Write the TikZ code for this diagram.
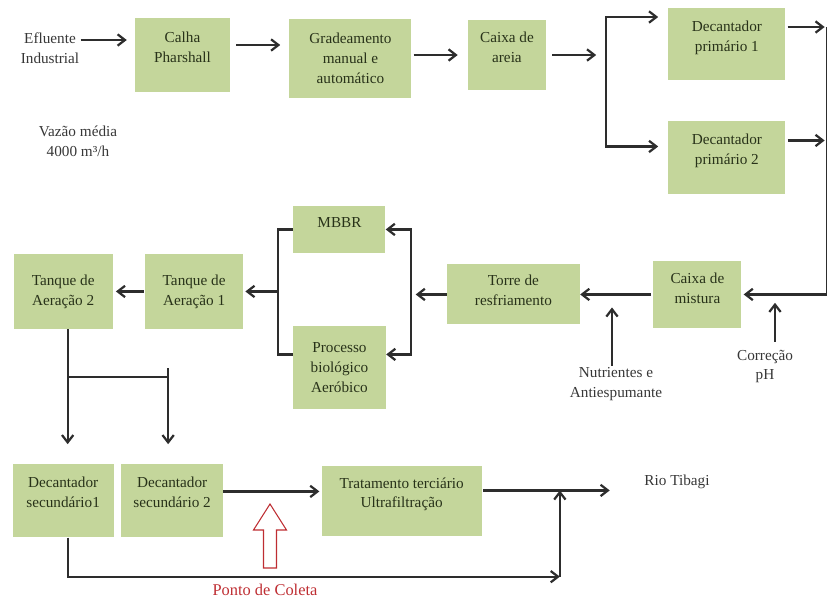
\documentclass[tikz,border=0pt]{standalone}
\usepackage{fontspec}
\setmainfont{Liberation Serif}
\usetikzlibrary{arrows.meta,positioning}
\definecolor{boxg}{RGB}{196,214,155}
\definecolor{boxt}{RGB}{40,50,25}
\definecolor{lblc}{RGB}{55,55,55}
\definecolor{linec}{RGB}{45,45,45}
\definecolor{ptred}{RGB}{190,45,50}
\newcommand{\dfont}{\fontsize{13}{17}\selectfont}
\begin{document}
\begin{tikzpicture}[x=0.03cm, y=-0.03cm, every node/.style={font=\dfont}, st/.style={fill=boxg, text=boxt, align=center, inner sep=2pt}, lift/.style={text depth=#1}, lbl/.style={text=lblc, align=center, inner sep=1pt}, ln/.style={draw=linec, line width=1.9pt}, arr/.style={ln, -{Straight Barb[length=2.2mm, width=3.4mm]}}]
\useasboundingbox (0,0) rectangle (827,603);
\node[st, minimum width=2.85cm, minimum height=2.22cm, lift=14pt] (calha) at (182.5,55) {Calha\\Pharshall};
\node[st, minimum width=3.66cm, minimum height=2.37cm, right=1.77cm of calha, yshift=-0.105cm] (grad) {Gradeamento\\manual e\\automático};
\node[st, minimum width=2.34cm, minimum height=2.1cm, lift=13pt, right=1.68cm of grad, yshift=0.105cm] (areia) {Caixa de\\areia};
\node[st, minimum width=3.51cm, minimum height=2.16cm, lift=13pt, right=3.66cm of areia, yshift=0.33cm] (dp1) {Decantador\\primário 1};
\node[st, minimum width=3.51cm, minimum height=2.19cm, lift=15pt, below=1.23cm of dp1] (dp2) {Decantador\\primário 2};
\node[st, minimum width=2.64cm, minimum height=2.01cm, lift=10pt, below=1.98cm of dp2, xshift=-0.885cm] (mist) {Caixa de\\mistura};
\node[st, minimum width=3.99cm, minimum height=1.8cm, lift=7pt, left=2.19cm of mist] (torre) {Torre de\\resfriamento};
\node[st, minimum width=2.76cm, minimum height=1.41cm, lift=11pt, left=1.83cm of torre, yshift=1.95cm] (mbbr) {MBBR};
\node[st, minimum width=2.79cm, minimum height=2.49cm, below=2.19cm of mbbr] (bio) {Processo\\biológico\\Aeróbico};
\node[st, minimum width=2.94cm, minimum height=2.25cm, left=6.1cm of torre, yshift=0.09cm] (ta1) {Tanque de\\Aeração 1};
\node[st, minimum width=2.97cm, minimum height=2.25cm, left=0.96cm of ta1] (ta2) {Tanque de\\Aeração 2};
\node[st, minimum width=3.03cm, minimum height=2.19cm, lift=15pt, below=4.05cm of ta2] (ds1) {Decantador\\secundário1};
\node[st, minimum width=3.06cm, minimum height=2.19cm, lift=15pt, right=0.21cm of ds1] (ds2) {Decantador\\secundário 2};
\node[st, minimum width=4.8cm, minimum height=2.1cm, lift=14pt, right=2.94cm of ds2] (terc) {Tratamento terciário\\Ultrafiltração};
\node[lbl] (efl) at (50,48) {Efluente\\Industrial};
\node[lbl] (vaz) at (78,141) {Vazão média\\4000 m³/h};
\node[lbl] (nutr) at (616,384) {Nutrientes e\\Antiespumante};
\node[lbl] (corr) at (765,366.5) {Correção\\pH};
\node[lbl] (rio) at (677,482) {Rio Tibagi};
\node[text=ptred, inner sep=1pt, font=\fontsize{14}{17}\selectfont] (ponto) at (265,590) {Ponto de Coleta};
\coordinate[right=1.8cm of areia] (sp);
\coordinate[right=2.55cm of mist] (rail);
\coordinate[left=1.08cm of torre] (rb);
\coordinate[right=1.05cm of ta1] (lb);
\coordinate (br) at ([xshift=0.135cm, yshift=-1.44cm]ta2.south);
\coordinate (d2in) at ([xshift=-0.12cm]ds2.north);
\coordinate (jt) at ([xshift=2.34cm, yshift=0.315cm]terc.east);
\coordinate (jb) at ([yshift=-1.17cm]ds1.south -| jt);
\coordinate (pc) at ([xshift=0.15cm, yshift=0.66cm]ponto.center);
\draw[arr, shorten >=0.24cm] ([yshift=0.24cm]efl.east) -- ([yshift=0.24cm]efl.east -| calha.west);
\draw[arr, shorten <=0.18cm, shorten >=0.27cm] ([yshift=0.3cm]calha.east) -- ([yshift=0.3cm]calha.east -| grad.west);
\draw[arr, shorten <=0.06cm, shorten >=0.3cm] (areia.west -| grad.east) -- (areia.west);
\draw[arr, shorten <=0.18cm, shorten >=0.3cm] (areia.east |- sp) -- (sp);
\draw[arr, shorten >=0.3cm] (sp) |- ([yshift=0.81cm]dp1.west); \draw[arr, shorten >=0.3cm] (sp) |- ([yshift=0.345cm]dp2.west);
\draw[arr, shorten <=0.06cm, shorten >=0.06cm] ([yshift=0.51cm]dp1.east) -- ([yshift=0.51cm]dp1.east -| rail);
\draw[arr, shorten <=0.06cm, shorten >=0.06cm] ([yshift=0.525cm]dp2.east) -- ([yshift=0.525cm]dp2.east -| rail);
\draw[ln] ([yshift=0.51cm]dp1.east -| rail) -- (rail); \draw[arr, shorten >=0.06cm] (rail) -- (mist.east);
\draw[arr, shorten <=0.06cm] (mist) -- (torre);
\draw[arr, shorten >=0.39cm] ([xshift=-0.12cm]nutr.north) -- ([xshift=-0.12cm]nutr.north |- torre);
\draw[arr, shorten <=0.2cm, shorten >=0.25cm] ([xshift=0.3cm]corr.north) -- ([xshift=0.3cm]corr.north |- mist);
\draw[arr, shorten >=0.15cm] (torre) -- (rb); \draw[arr] (rb) |- (mbbr.east); \draw[arr] (rb) |- ([yshift=0.405cm]bio.east);
\draw[ln] (mbbr.west) -| (lb); \draw[ln] ([yshift=0.405cm]bio.west) -| (lb); \draw[arr, shorten >=0.06cm] (lb) -- (ta1);
\draw[arr, shorten <=0.03cm, shorten >=0.09cm] (ta1) -- (ta2);
\draw[arr, shorten >=0.6cm] ([xshift=0.135cm]ta2.south) -- ([xshift=0.135cm]ta2.south |- ds1.north);
\draw[ln] (br) -- (br -| d2in); \draw[arr, shorten >=0.6cm] ([yshift=0.27cm]br -| d2in) -- (d2in);
\draw[arr, shorten >=0.06cm] ([yshift=0.285cm]ds2.east) -- ([yshift=0.285cm]ds2.east -| terc.west);
\draw[arr, shorten <=0.03cm, shorten >=1cm] ([yshift=0.315cm]terc.east) -- ([yshift=0.315cm]terc.east -| rio.west);
\draw[arr] ([xshift=0.135cm]ds1.south) |- (jb); \draw[arr] (jb) -- (jt);
\draw[ptred, line width=0.9pt, fill=white] (pc) ++(-6.5,0) -- ++(0,-38) -- ++(-10,0) -- ++(16.5,-26) -- ++(16.5,26) -- ++(-10,0) -- ++(0,38) -- cycle;
\end{tikzpicture}
\end{document}
